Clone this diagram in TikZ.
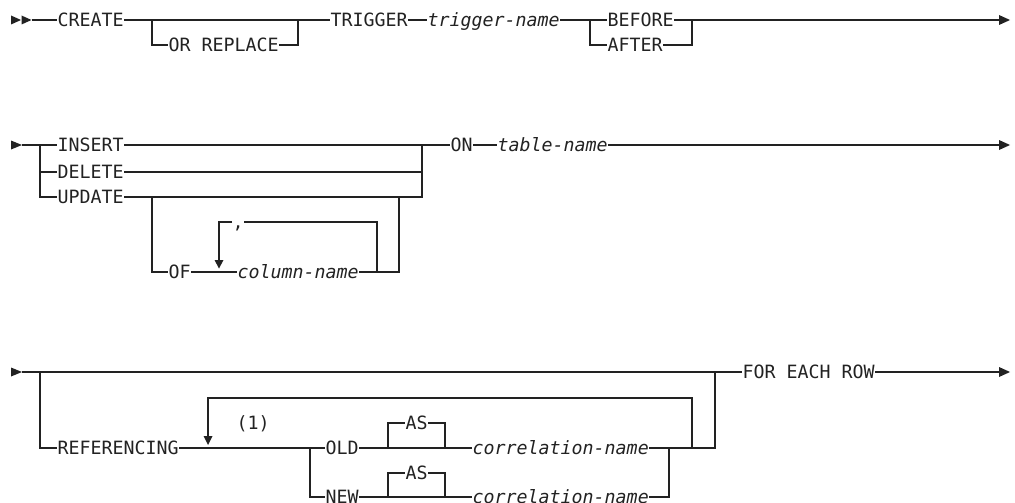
\documentclass[tikz,border=0pt]{standalone}
\usepackage{fontspec}
\newfontfamily\dm{DejaVu Sans Mono}
\definecolor{ink}{HTML}{222222}
\begin{document}
\begin{tikzpicture}[x=1pt,y=-1pt,
  rail/.style={draw=ink,line width=1.1pt},
  kw/.style={font=\dm\fontsize{18.3}{20}\selectfont, text=ink, anchor=west,
    inner xsep=0.5pt, inner ysep=0pt, outer sep=0pt, text height=15pt, text depth=2pt},
  var/.style={kw, font=\dm\fontsize{18.3}{20}\selectfont\itshape},
  tip/.style={fill=ink}]
\useasboundingbox (0,0) rectangle (1015,503);

% ---------------- Row 1 ----------------
\fill[tip] (11,15.5) -- (21,20) -- (11,24.5) -- cycle;
\fill[tip] (21.5,15.5) -- (31.5,20) -- (21.5,24.5) -- cycle;
\coordinate (r1s) at (31.5,20);
\node[kw] (create) at (57,20) {CREATE};
\node[kw] (orrep) at (168,45) {OR REPLACE};
\node[kw] (trig) at (330,20) {TRIGGER};
\node[var] (tname) at (427,20) {trigger-name};
\node[kw] (before) at (607,20) {BEFORE};
\node[kw] (after) at (607,45) {AFTER};
\coordinate (o1) at (152,20);
\coordinate (o2) at (298,20);
\coordinate (b1) at (590,20);
\coordinate (b2) at (692,20);
\coordinate (r1e) at (999,20);
\draw[rail] (r1s) -- (create.west);
\draw[rail] (create.east) -- (trig.west);
\draw[rail] (o1) |- (orrep.west);
\draw[rail] (orrep.east) -| (o2);
\draw[rail] (trig.east) -- (tname.west);
\draw[rail] (tname.east) -- (before.west);
\draw[rail] (b1) |- (after.west);
\draw[rail] (after.east) -| (b2);
\draw[rail] (before.east) -- (r1e);
\fill[tip] (999,15) -- (1010,20) -- (999,25) -- cycle;

% ---------------- Row 2 ----------------
\fill[tip] (11,140.5) -- (22,145) -- (11,149.5) -- cycle;
\coordinate (r2s) at (22,145);
\node[kw] (insert) at (57,145) {INSERT};
\node[kw] (delete) at (57,172) {DELETE};
\node[kw] (update) at (57,197) {UPDATE};
\node[kw] (of) at (168,272) {OF};
\node[var] (colname) at (237,272) {column-name};
\node[kw] (comma) at (232,222) {,};
\node[kw] (on) at (450,145) {ON};
\node[var] (tabname) at (497,145) {table-name};
\coordinate (d1) at (40,145);
\coordinate (d2) at (422,145);
\coordinate (u1) at (152,197);
\coordinate (u2) at (399,197);
\coordinate (lp1) at (219,260);
\coordinate (lp2) at (377,272);
\coordinate (r2e) at (999,145);
\draw[rail] (r2s) -- (insert.west);
\draw[rail] (d1) |- (delete.west);
\draw[rail] (d1) |- (update.west);
\draw[rail] (insert.east) -- (on.west);
\draw[rail] (delete.east) -| (d2);
\draw[rail] (update.east) -| (d2);
\draw[rail] (u1) |- (of.west);
\draw[rail] (of.east) -- (colname.west);
\draw[rail] (colname.east) -| (u2);
\draw[rail] (lp2) |- (comma.east);
\draw[rail] (comma.west) -| (lp1);
\fill[tip] (214.5,260) -- (223.5,260) -- (219,268.5) -- cycle;
\draw[rail] (on.east) -- (tabname.west);
\draw[rail] (tabname.east) -- (r2e);
\fill[tip] (999,140) -- (1010,145) -- (999,150) -- cycle;

% ---------------- Row 3 ----------------
\fill[tip] (11,367.5) -- (22,372) -- (11,376.5) -- cycle;
\coordinate (r3s) at (22,372);
\node[kw] (refer) at (57,448) {REFERENCING};
\node[kw] (note) at (236,423) {(1)};
\node[kw] (old) at (325,448) {OLD};
\node[kw] (new) at (325,497) {NEW};
\node[kw] (as1) at (405,423) {AS};
\node[kw] (as2) at (405,473) {AS};
\node[var] (corr1) at (472,448) {correlation-name};
\node[var] (corr2) at (472,497) {correlation-name};
\node[kw] (feach) at (742,372) {FOR EACH ROW};
\coordinate (f1) at (40,372);
\coordinate (f2) at (715,372);
\coordinate (n1) at (310,448);
\coordinate (a1) at (388,448);
\coordinate (a2) at (445,448);
\coordinate (a3) at (388,497);
\coordinate (a4) at (445,497);
\coordinate (nc) at (669,448);
\coordinate (rp1) at (692,448);
\coordinate (rp2) at (208,436);
\coordinate (r3e) at (999,372);
\draw[rail] (r3s) -- (feach.west);
\draw[rail] (f1) |- (refer.west);
\draw[rail] (refer.east) -- (old.west);
\draw[rail] (n1) |- (new.west);
\draw[rail] (old.east) -- (corr1.west);
\draw[rail] (a1) |- (as1.west);
\draw[rail] (as1.east) -| (a2);
\draw[rail] (corr1.east) -| (f2);
\draw[rail] (new.east) -- (corr2.west);
\draw[rail] (a3) |- (as2.west);
\draw[rail] (as2.east) -| (a4);
\draw[rail] (corr2.east) -| (nc);
\draw[rail] (rp1) -- (692,398) -| (rp2);
\fill[tip] (203.5,436) -- (212.5,436) -- (208,445) -- cycle;
\draw[rail] (feach.east) -- (r3e);
\fill[tip] (999,367) -- (1010,372) -- (999,377) -- cycle;
\end{tikzpicture}
\end{document}
